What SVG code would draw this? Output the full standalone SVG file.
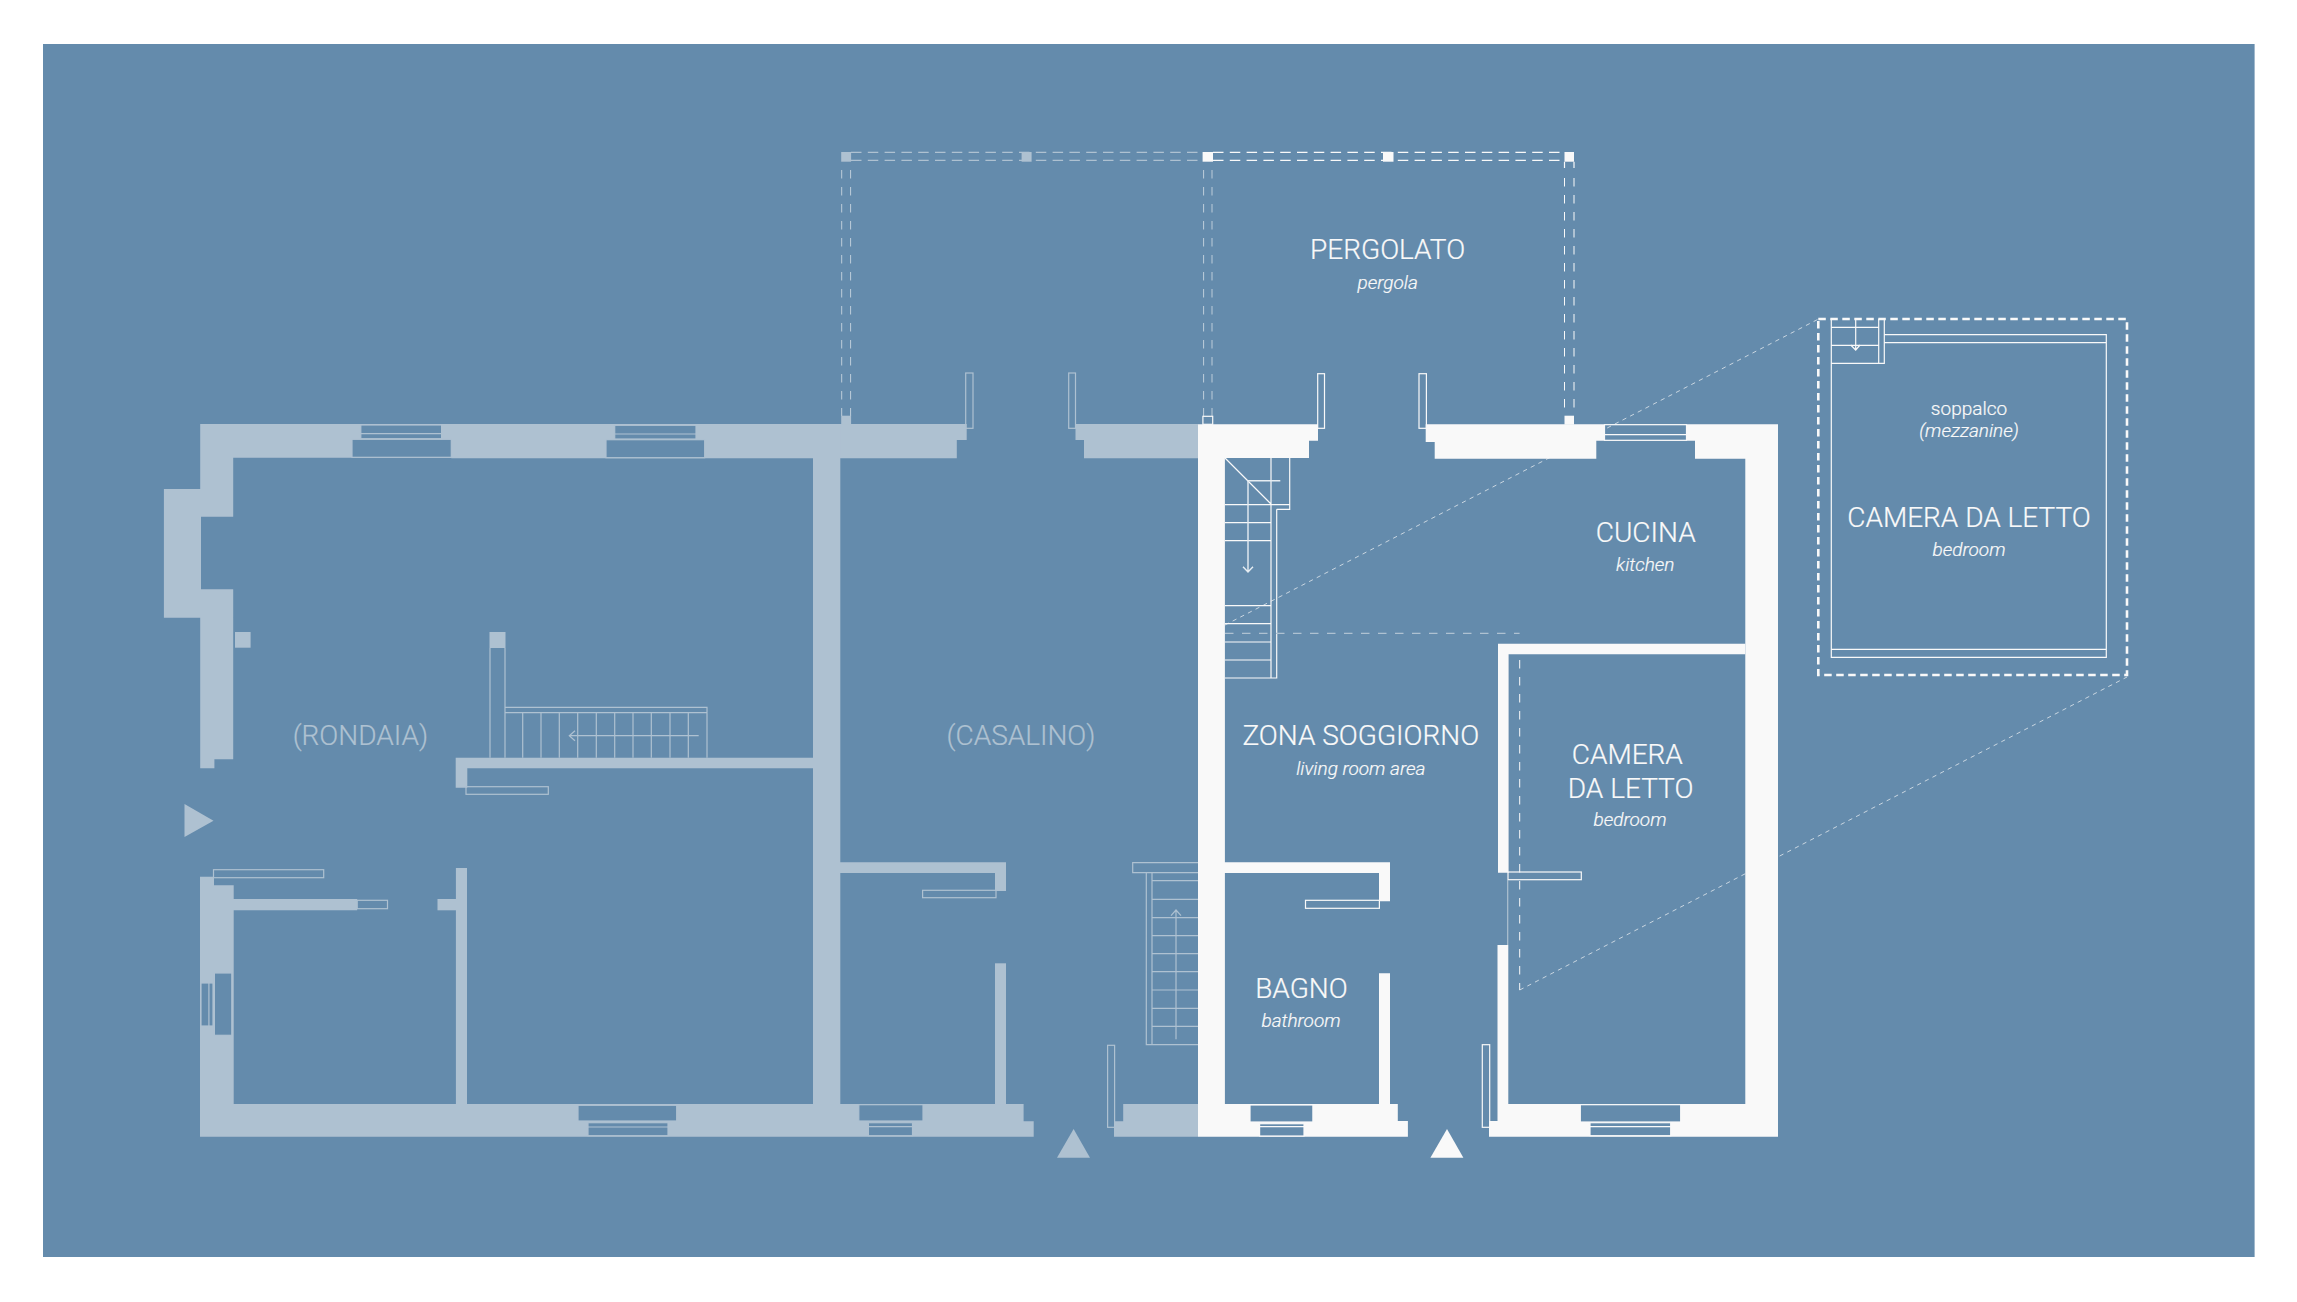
<svg xmlns="http://www.w3.org/2000/svg" width="2297" height="1302" viewBox="0 0 2297 1302">
<style>
.bg{fill:#648bac}
.g{fill:#aec1d1}
.w{fill:#f9f9f9}
.ls{fill:none;stroke:#aec1d1;stroke-width:1.2}
.lw{fill:none;stroke:#f9f9f9;stroke-width:1.2}
.la{fill:none;stroke:#e6edf2;stroke-width:1.4}
.rg{fill:#648bac;stroke:#aec1d1;stroke-width:1.2}
.rw{fill:#648bac;stroke:#f9f9f9;stroke-width:1.2}
.dv{fill:none;stroke:#f9f9f9;stroke-width:1;stroke-dasharray:8.5 8.5}
.dvg{fill:none;stroke:#f9f9f9;stroke-width:1;stroke-dasharray:8.5 8.5;opacity:.6}
.dh{fill:none;stroke:#f9f9f9;stroke-width:1.2;stroke-dasharray:10.5 6.3}
.dhg{fill:none;stroke:#aec1d1;stroke-width:1.2;stroke-dasharray:10.5 6.3}
.dd{fill:none;stroke:#f9f9f9;stroke-width:.8;stroke-dasharray:4.3 4.3;opacity:.85}
.t{font-family:Roboto,"Liberation Sans",sans-serif;font-weight:300;text-anchor:middle;fill:#f9f9f9;stroke:#f9f9f9;stroke-width:.22}
.big{font-size:28px}
.sm{font-size:19px;font-style:italic}
.tg{fill:#aec1d1;stroke:#aec1d1}
</style>
<rect width="2297" height="1302" fill="#fff"/>
<rect class="bg" x="43" y="44" width="2211.6" height="1213"/>

<g id="rondaia-casalino">
<path class="g" d="M200.2 424H966.7V440H956.8V458.3H451.3V457.7H233.2V516.7H201V589.3H233.2V759.3H214.4V768.3H200.2V617.7H163.9V489H200.2Z"/>
<rect class="g" x="813" y="424" width="27.3" height="680"/>
<rect class="g" x="235" y="632" width="15.6" height="15.7"/>
<rect class="g" x="489.5" y="632" width="16" height="16"/>
<path class="g" d="M455.7 757.7H813V768.3H467.3V787.7H455.7Z"/>
<path class="g" d="M200 876.7H214V885.3H233.7V899H357.2V910.3H233.7V1104H1023.6V1121.3H1033.7V1136.7H200Z"/>
<rect class="g" x="437.5" y="899" width="19" height="11.3"/>
<rect class="g" x="455.9" y="868" width="11.1" height="236"/>
<path class="g" d="M840 862.3H1006V891H995V873H840Z"/>
<rect class="g" x="995" y="963.3" width="11" height="141"/>
<path class="g" d="M1075.5 424H1198V458.3H1084V440H1075.5Z"/>
<path class="g" d="M1123.2 1104H1198V1136.7H1114V1121.3H1123.2Z"/>
<rect class="rg" x="352" y="439.3" width="99.3" height="18"/>
<rect class="rg" x="360.8" y="425" width="80.8" height="13.7"/>
<path class="ls" d="M360.8 433.7H441.6"/>
<rect class="rg" x="606" y="439.7" width="98.7" height="18"/>
<rect class="rg" x="614.7" y="425.3" width="81.3" height="13.7"/>
<path class="ls" d="M614.7 434H696"/>
<rect class="rg" x="214.4" y="973" width="17.4" height="62.3"/>
<rect class="rg" x="201" y="983" width="12" height="43"/>
<path class="ls" d="M208.9 983V1026"/>
<rect class="rg" x="578" y="1105.3" width="98.7" height="15.7"/>
<rect class="rg" x="588" y="1122.7" width="80" height="13"/>
<path class="ls" d="M588 1127H668"/>
<rect class="rg" x="858.8" y="1104.7" width="64.2" height="16.3"/>
<rect class="rg" x="868.4" y="1122.7" width="44.1" height="13"/>
<path class="ls" d="M868.4 1126.7H912.5"/>
<rect class="ls" x="466" y="786.7" width="82.3" height="7.6"/>
<rect class="ls" x="213.5" y="869.7" width="110.2" height="8"/>
<rect class="ls" x="357.2" y="900.3" width="30.3" height="8.4"/>
<rect class="ls" x="922.6" y="890.3" width="73.4" height="7.4"/>
<rect class="ls" x="1107.6" y="1045.3" width="7" height="82"/>
<rect class="ls" x="965.7" y="373" width="7.3" height="55.3"/>
<rect class="ls" x="1068.7" y="373" width="6.8" height="55.3"/>
<path class="ls" d="M490 648V757.7M505 648V757.7M505 707.3H707V757.7M505 712.7H707M522.7 712.7V757.7M541 712.7V757.7M559.3 712.7V757.7M577.7 712.7V757.7M596.3 712.7V757.7M614.7 712.7V757.7M633 712.7V757.7M651.3 712.7V757.7M670 712.7V757.7M688.3 712.7V757.7"/>
<path class="ls" d="M698.7 735.7H569.3M575 730.7L569.3 735.7L575 740.7"/>
<path class="ls" d="M1198 862.7H1132.7V872.7H1198M1146.3 872.7V1044.7H1198M1152 872.7V1044.7M1152 880.7H1198M1152 899.3H1198M1152 917.7H1198M1152 935.7H1198M1152 953.7H1198M1152 971.7H1198M1152 990H1198M1152 1008.3H1198M1152 1026.3H1198"/>
<path class="ls" d="M1176 1039.3V910M1171 915.7L1176 910L1181 915.7"/>
<path class="g" d="M184.5 804L213.5 820.7L184.5 837Z"/>
<path class="g" d="M1073.6 1129L1090 1157.7H1057Z"/>
<text class="t big tg" x="360.4" y="745.3">(RONDAIA)</text>
<text class="t big tg" x="1021" y="745.3">(CASALINO)</text>
</g>

<g id="pergola">
<path class="dhg" d="M851 152.3H1202.6M851 160.3H1202.6"/>
<path class="dh" d="M1213 152.3H1564.5M1213 160.3H1564.5"/>
<path class="dvg" d="M841.7 170V416M850.6 170V416M1203.6 170V416M1212 170V416"/>
<path class="dv" d="M1564.5 178V416M1574 178V416"/>
<rect class="g" x="841.2" y="152" width="9.9" height="9.7"/>
<rect class="g" x="1021.6" y="152" width="10" height="9.7"/>
<rect class="w" x="1202.6" y="152" width="10.4" height="9.7"/>
<rect class="w" x="1383" y="152" width="10.5" height="9.7"/>
<rect class="w" x="1564.5" y="152" width="9.5" height="9.7"/>
<path class="lw" d="M1564.5 161.7V168M1574 161.7V168"/>
<rect class="g" x="841.2" y="415.7" width="9.9" height="9"/>
<rect class="lw" x="1202.9" y="416.3" width="9.8" height="8"/>
<rect class="w" x="1564.5" y="415.7" width="9.5" height="9"/>
<text class="t big" x="1387.6" y="259">PERGOLATO</text>
<text class="t sm" x="1387.6" y="289">pergola</text>
</g>

<g id="house">
<path class="w" d="M1198 424.3H1318V440.7H1309V458H1224.9V1104H1379V973.3H1390V1104H1397.8V1121H1407.9V1136.7H1198Z"/>
<path class="w" d="M1224 862.3H1390V901.3H1379V873H1224Z"/>
<path class="w" d="M1425.7 424.3H1778V1136.7H1489V1121H1497.5V945H1508.3V1104H1745.3V458.7H1695V440.7H1596.3V458.7H1434.7V442H1425.7Z"/>
<path class="w" d="M1498 643.7H1745.3V654.3H1508.6V872.7H1498Z"/>
<rect class="rw" x="1604.5" y="424.7" width="82" height="15.6"/>
<path class="lw" d="M1604.5 434.7H1686.5"/>
<rect class="rw" x="1250" y="1105" width="62.9" height="17"/>
<rect class="rw" x="1259.6" y="1123.7" width="44.4" height="12.3"/>
<path class="lw" d="M1259.6 1126.7H1304"/>
<rect class="rw" x="1580.3" y="1104.7" width="100.4" height="17.3"/>
<rect class="rw" x="1590" y="1122.7" width="80.7" height="13"/>
<path class="lw" d="M1590 1126.7H1670.7"/>
<rect class="lw" x="1305.5" y="900.3" width="73.9" height="8"/>
<rect class="lw" x="1508" y="872" width="73.3" height="7.7"/>
<rect class="lw" x="1482.3" y="1044.7" width="7.4" height="82.6"/>
<rect class="lw" x="1317.7" y="373.7" width="6.8" height="54.6"/>
<rect class="lw" x="1419" y="373.7" width="7.4" height="54.6"/>
<path class="ls" d="M1507.7 879.7V945"/>
<path class="lw" d="M1225 458L1271 504M1271 458V677.7M1276.7 509.3V678H1225M1289.7 458V509.3H1276.7M1225 504.7H1289.7M1225 522.7H1271M1225 540.7H1271M1225 605.7H1271M1225 623.7H1271M1225 642H1271M1225 660H1271"/>
<path class="la" d="M1280.3 480.7H1248V571M1243 566.7L1248 572L1253 566.7"/>
<path class="dhg" style="stroke-dasharray:8.5 8.5" d="M1225 633.3H1519.6"/>
<path class="dv" d="M1519.7 660V990"/>
<path class="w" d="M1447 1129L1463.4 1157.7H1430.4Z"/>
<text class="t big" x="1645.7" y="541.7">CUCINA</text>
<text class="t sm" x="1645.3" y="571">kitchen</text>
<text class="t big" x="1360.8" y="744.7">ZONA SOGGIORNO</text>
<text class="t sm" x="1360.8" y="775">living room area</text>
<text class="t big" x="1627.3" y="764">CAMERA</text>
<text class="t big" x="1630.6" y="798">DA LETTO</text>
<text class="t sm" x="1630" y="825.7">bedroom</text>
<text class="t big" x="1301.4" y="997.7">BAGNO</text>
<text class="t sm" x="1301" y="1027.3">bathroom</text>
</g>

<g id="mezzanine">
<rect x="1818.3" y="319" width="308.7" height="356" fill="none" stroke="#f9f9f9" stroke-width="2.6" stroke-dasharray="7.5 4.5"/>
<path class="lw" d="M1831.3 319V657.3H2106.3V334.7H1884.3V363.3H1831.3M1831.3 649.3H2106.3M1884.3 342.7H2106.3M1878.7 319V363.3M1884.3 319V363.3M1831.3 327.3H1878.7M1831.3 345.3H1878.7"/>
<path class="lw" d="M1855.7 319V350M1850.7 345L1855.7 350L1860 345"/>
<text class="t" style="font-size:19px" x="1969" y="415">soppalco</text>
<text class="t sm" x="1969" y="436.7">(mezzanine)</text>
<text class="t big" x="1969" y="526.7">CAMERA DA LETTO</text>
<text class="t sm" x="1969" y="556">bedroom</text>
</g>

<g id="connectors">
<path class="dd" d="M1225 625L1818 319.3"/>
<path class="dd" d="M1519.7 990L2127 677"/>
</g>
</svg>
